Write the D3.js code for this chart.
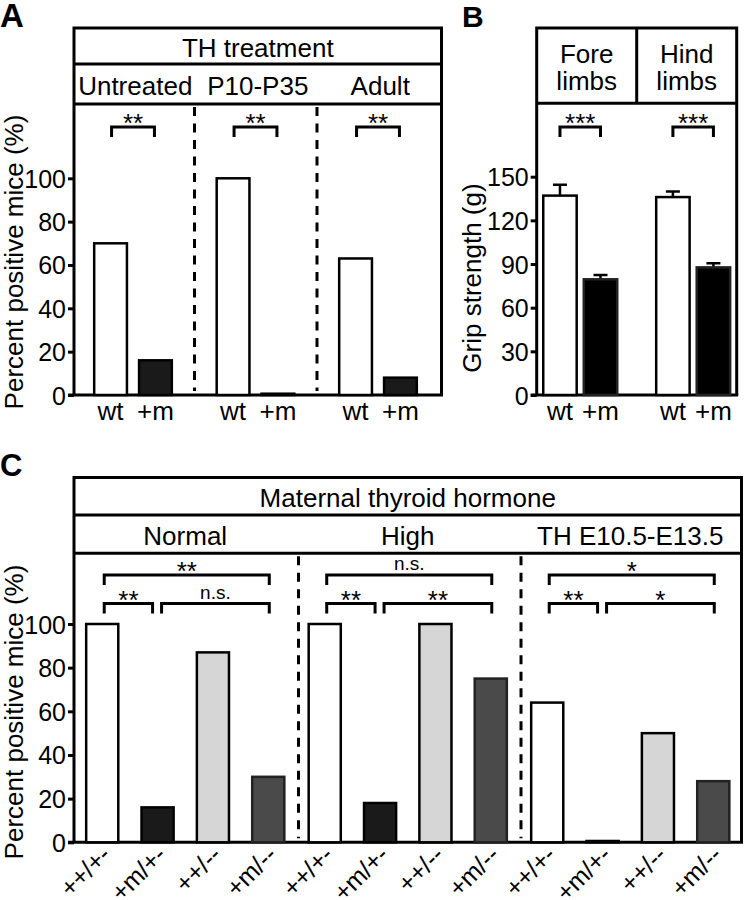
<!DOCTYPE html>
<html><head><meta charset="utf-8">
<script src="https://cdn.jsdelivr.net/npm/d3@7"></script>
<style>body{margin:0;background:#fff}text{font-family:"Liberation Sans",Arial,Helvetica,sans-serif;fill:#000}</style>
</head><body><svg id="c" width="745" height="900"></svg>
<script>
// ---- Panel A data ----
const groupsA = ["Untreated", "P10-P35", "Adult"];
const genoA = ["wt", "+m"];
const wtA = [70, 100, 63];
const mA = [16, 0.6, 8];
const sigA = ["**", "**", "**"];
const ticksA = [0, 20, 40, 60, 80, 100];

// ---- Panel B data ----
const groupsB = ["Fore limbs", "Hind limbs"];
const genoB = ["wt", "+m"];
const wtB = [137, 136];
const wtErrB = [7.5, 3.8];
const mB = [79.5, 87.7];
const mErrB = [3, 2.8];
const sigB = ["***", "***"];
const ticksB = [0, 30, 60, 90, 120, 150];

// ---- Panel C data ----
const groupsC = ["Normal", "High", "TH E10.5-E13.5"];
const genoC = ["++/+-", "+m/+-", "++/--", "+m/--"];
const valsC = {
  "Normal": [100, 16, 87, 30],
  "High": [100, 18, 100, 75],
  "TH E10.5-E13.5": [64, 0.6, 50, 28]
};
const sigC = {
  "Normal": ["**", "**", "n.s."],
  "High": ["n.s.", "**", "**"],
  "TH E10.5-E13.5": ["*", "**", "*"]
};
const ticksC = [0, 20, 40, 60, 80, 100];
const colorsC = ["#ffffff", "#1a1a1a", "#d6d6d6", "#4a4a4a"];

const svg = d3.select("#c");
const FS = 26, TFS = 25;

function frame(g, x0, x1, top, base, rows) {
  g.append("path").attr("d", `M${x0},${base}V${top}H${x1}V${base}`)
    .attr("fill", "none").attr("stroke", "#000").attr("stroke-width", 3);
  g.append("line").attr("x1", x0 - 6).attr("x2", x1 + 1.5).attr("y1", base).attr("y2", base)
    .attr("stroke", "#000").attr("stroke-width", 3);
  rows.forEach(y => g.append("line").attr("x1", x0).attr("x2", x1).attr("y1", y).attr("y2", y)
    .attr("stroke", "#000").attr("stroke-width", 3));
}
function yAxis(g, y, x0, ticks) {
  const ax = d3.axisLeft(y).tickValues(ticks).tickSize(6).tickPadding(2).tickFormat(d3.format("d"));
  const a = g.append("g").attr("transform", `translate(${x0},0)`).call(ax);
  a.select(".domain").remove();
  a.selectAll(".tick line").attr("stroke", "#000").attr("stroke-width", 3);
  a.selectAll(".tick text").attr("font-size", TFS).attr("font-family", '"Liberation Sans",Arial,sans-serif').attr("fill", "#000").attr("dy", "0.36em");
}
function yLabel(g, text, x, y) {
  g.append("text").attr("transform", `translate(${x},${y}) rotate(-90)`).attr("text-anchor", "middle")
    .attr("font-size", FS).text(text);
}
function bracket(g, xa, xb, y, label) {
  g.append("path").attr("d", `M${xa},${y + 10}V${y}H${xb}V${y + 10}`).attr("fill", "none")
    .attr("stroke", "#000").attr("stroke-width", 3);
  const t = g.append("text").attr("x", (xa + xb) / 2).attr("text-anchor", "middle").text(label);
  if (label === "n.s.") t.attr("y", y - 5).attr("font-size", 19);
  else t.attr("y", y + 5).attr("font-size", FS);
}
function divider(g, x, y0, y1) {
  g.append("line").attr("x1", x).attr("x2", x).attr("y1", y0).attr("y2", y1)
    .attr("stroke", "#000").attr("stroke-width", 3).attr("stroke-dasharray", "9,7.5");
}
function letter(t, x, y, fs) {
  svg.append("text").attr("x", x).attr("y", y).attr("font-size", fs).attr("font-weight", "bold").text(t);
}

// ================= Panel A =================
{
  const g = svg.append("g");
  const x0 = 74, x1 = 441.5, top = 28, r1 = 64, r2 = 104, base = 395;
  const y = d3.scaleLinear().domain([0, 100]).range([base, 178.3]);
  const gx = d3.scaleBand().domain(groupsA).range([x0, x1]);
  const bx = d3.scaleBand().domain(genoA).range([0, gx.bandwidth()]).paddingInner(0.27).paddingOuter(0.5).align(0.45);
  frame(g, x0, x1, top, base, [r1, r2]);
  g.append("text").attr("x", (x0 + x1) / 2).attr("y", 57).attr("text-anchor", "middle").attr("font-size", FS).text("TH treatment");
  groupsA.forEach((gr, i) => {
    g.append("text").attr("x", gx(gr) + gx.bandwidth() / 2).attr("y", 95).attr("text-anchor", "middle").attr("font-size", FS).text(gr);
    if (i > 0) divider(g, gx(gr) - 2, r2 + 3, base - 4);
    const vals = [wtA[i], mA[i]];
    genoA.forEach((ge, j) => {
      const bxPos = gx(gr) + bx(ge);
      g.append("rect").attr("x", bxPos).attr("y", y(vals[j])).attr("width", bx.bandwidth())
        .attr("height", base - y(vals[j])).attr("fill", j === 0 ? "#fff" : "#1a1a1a")
        .attr("stroke", "#000").attr("stroke-width", 2.5);
      g.append("text").attr("x", bxPos + bx.bandwidth() / 2).attr("y", 420).attr("text-anchor", "middle")
        .attr("font-size", FS).text(ge);
    });
    const ca = gx(gr) + bx("wt") + bx.bandwidth() / 2, cb = gx(gr) + bx("+m") + bx.bandwidth() / 2;
    bracket(g, ca + 1, cb - 1, 127, sigA[i]);
  });
  yAxis(g, y, x0, ticksA);
  yLabel(g, "Percent positive mice (%)", 23, 262);
  letter("A", 0, 27, 33);
}

// ================= Panel B =================
{
  const g = svg.append("g");
  const x0 = 536.7, x1 = 736.7, top = 28, r1 = 103.3, base = 395;
  const y = d3.scaleLinear().domain([0, 150]).range([base, 176.7]);
  const gx = d3.scaleBand().domain(groupsB).range([x0, x1]).paddingInner(0.345).paddingOuter(0.058);
  const bx = d3.scaleBand().domain(genoB).range([0, gx.bandwidth()]).paddingInner(0.175);
  frame(g, x0, x1, top, base, [r1]);
  g.append("line").attr("x1", (x0 + x1) / 2).attr("x2", (x0 + x1) / 2).attr("y1", top).attr("y2", r1)
    .attr("stroke", "#000").attr("stroke-width", 3);
  const hx = d3.scaleBand().domain(groupsB).range([x0, x1]);
  groupsB.forEach((gr, i) => {
    const parts = gr.split(" ");
    parts.forEach((p, k) => g.append("text").attr("text-anchor", "middle").attr("font-size", FS)
      .attr("x", hx(gr) + hx.bandwidth() / 2).attr("y", 63 + k * 27).text(p));
    const vals = [wtB[i], mB[i]], errs = [wtErrB[i], mErrB[i]];
    genoB.forEach((ge, j) => {
      const bxPos = gx(gr) + bx(ge), cx = bxPos + bx.bandwidth() / 2;
      g.append("path").attr("d", `M${cx},${y(vals[j])}V${y(vals[j] + errs[j])}M${cx - 7},${y(vals[j] + errs[j])}H${cx + 7}`)
        .attr("stroke", "#000").attr("stroke-width", 2.5).attr("fill", "none");
      g.append("rect").attr("x", bxPos).attr("y", y(vals[j])).attr("width", bx.bandwidth())
        .attr("height", base - y(vals[j])).attr("fill", j === 0 ? "#fff" : "#000")
        .attr("stroke", j === 0 ? "#000" : "#222").attr("stroke-width", 2.5);
      g.append("text").attr("x", cx).attr("y", 420).attr("text-anchor", "middle").attr("font-size", FS).text(ge);
    });
    const ca = gx(gr) + bx("wt") + bx.bandwidth() / 2, cb = gx(gr) + bx("+m") + bx.bandwidth() / 2;
    bracket(g, ca, cb, 127, sigB[i]);
  });
  yAxis(g, y, x0, ticksB);
  yLabel(g, "Grip strength (g)", 481, 278);
  letter("B", 462, 27, 30);
}

// ================= Panel C =================
{
  const g = svg.append("g");
  const x0 = 74, x1 = 741.5, top = 477.5, r1 = 515, r2 = 553.3, base = 842.3;
  const y = d3.scaleLinear().domain([0, 100]).range([base, 624]);
  const gx = d3.scaleBand().domain(groupsC).range([x0, x1]);
  const bx = d3.scaleBand().domain(genoC).range([0, gx.bandwidth()]).paddingInner(0.42).paddingOuter(0.22);
  frame(g, x0, x1, top, base, [r1, r2]);
  g.append("text").attr("x", (x0 + x1) / 2).attr("y", 507).attr("text-anchor", "middle").attr("font-size", FS).text("Maternal thyroid hormone");
  groupsC.forEach((gr, i) => {
    g.append("text").attr("x", gx(gr) + gx.bandwidth() / 2).attr("y", 544.5).attr("text-anchor", "middle").attr("font-size", FS).text(gr);
    if (i > 0) divider(g, gx(gr) + 2, r2 + 3, base - 4);
    const c = genoC.map(ge => gx(gr) + bx(ge) + bx.bandwidth() / 2);
    genoC.forEach((ge, j) => {
      const v = valsC[gr][j];
      g.append("rect").attr("x", gx(gr) + bx(ge)).attr("y", y(v)).attr("width", bx.bandwidth())
        .attr("height", base - y(v)).attr("fill", colorsC[j])
        .attr("stroke", j === 3 ? "#222" : "#000").attr("stroke-width", 2.5);
      g.append("text").attr("transform", `translate(${c[j] + 10},${base + 14}) rotate(-45)`)
        .attr("text-anchor", "end").attr("font-size", 25).text(ge);
    });
    const s = sigC[gr];
    bracket(g, c[0] + 2, c[3] + 1, 575, s[0]);
    bracket(g, c[0] + 2, c[1] - 5, 603.5, s[1]);
    bracket(g, c[1] + 4, c[3] + 1, 603.5, s[2]);
  });
  yAxis(g, y, x0, ticksC);
  yLabel(g, "Percent positive mice (%)", 23, 712);
  letter("C", 0, 476, 31);
}
</script></body></html>
